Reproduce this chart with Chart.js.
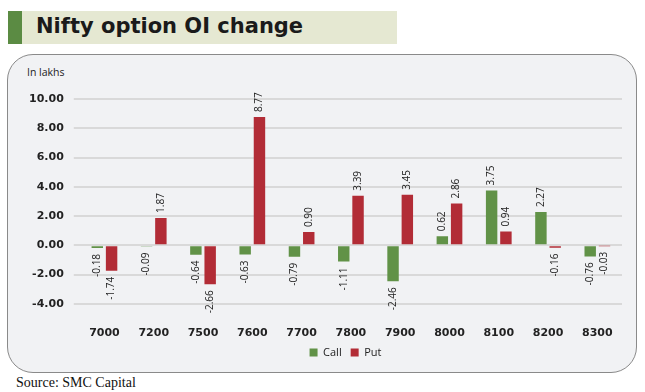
<!DOCTYPE html>
<html>
<head>
<meta charset="utf-8">
<script src="https://cdn.jsdelivr.net/npm/chart.js@4.4.1/dist/chart.umd.min.js"></script>
<style>
  body { margin: 0; background: #fff; width: 645px; height: 392px; position: relative; overflow: hidden; }
  #banner { position: absolute; left: 8px; top: 11px; width: 389px; height: 33px; background: #e5e8d2; }
  #banner .bar { position: absolute; left: 0; top: 0; width: 14px; height: 33px; background: #5b8b43; }
  #banner .txt { position: absolute; left: 28px; top: 3px; font: bold 21px "DejaVu Sans"; color: #1a1a1a; white-space: nowrap; }
  #box { position: absolute; left: 7px; top: 54px; width: 630px; height: 319px; background: #f1f2f4; border: 1.5px solid #8a8a8a; border-radius: 26px; box-sizing: border-box; }
  #unit { position: absolute; left: 27px; top: 65px; font: 10.5px "Open Sans"; color: #222; }
  #source { position: absolute; left: 16px; top: 375px; font: 14px "Liberation Serif"; color: #111; }
  #wrap { position: absolute; left: 0; top: 0; width: 645px; height: 392px; }
</style>
</head>
<body>
<div id="banner"><div class="bar"></div><div class="txt">Nifty option OI change</div></div>
<div id="box"></div>
<div id="unit">In lakhs</div>
<div id="source">Source: SMC Capital</div>
<div id="wrap"><canvas id="oiCanvas" width="645" height="392"></canvas></div>
<script>
const strikes = ["7000","7200","7500","7600","7700","7800","7900","8000","8100","8200","8300"]
const callChange = [-0.18, -0.09, -0.64, -0.63, -0.79, -1.11, -2.46, 0.62, 3.75, 2.27, -0.76]
const putChange = [-1.74, 1.87, -2.66, 8.77, 0.90, 3.39, 3.45, 2.86, 0.94, -0.16, -0.03]

// rotated value labels above / below each bar
const barLabels = {
    id: "barLabels",
    afterDatasetsDraw(chart) {
        const ctx = chart.ctx
        ctx.save()
        ctx.font = "10px 'Open Sans'"
        ctx.fillStyle = "#222"
        ctx.textBaseline = "middle"
        chart.data.datasets.forEach((ds, i) => {
            chart.getDatasetMeta(i).data.forEach((bar, j) => {
                const v = ds.data[j]
                const txt = v.toFixed(2)
                ctx.save()
                ctx.translate(bar.x, v >= 0 ? bar.y - 5 : bar.y + 6)
                ctx.rotate(-Math.PI / 2)
                ctx.textAlign = v >= 0 ? "left" : "right"
                ctx.fillText(txt, 0, 0)
                ctx.restore()
            })
        })
        ctx.restore()
    }
}

// pull the legend up closer to the axis labels, and a bit right like the original
const legendNudge = {
    id: "legendNudge",
    afterLayout(chart) {
        const lg = chart.legend
        if (lg) { lg.top -= 17; lg.bottom -= 17; lg.left += 25; lg.right += 25 }
    }
}

const oiChart = new Chart(document.getElementById("oiCanvas"), {
    type: "bar",
    data: {
        labels: strikes,
        datasets: [{
            label: "Call",
            data: callChange,
            backgroundColor: "#619247",
            categoryPercentage: 0.58,
            barPercentage: 0.8
        }, {
            label: "Put",
            data: putChange,
            backgroundColor: "#b22c36",
            categoryPercentage: 0.58,
            barPercentage: 0.8
        }]
    },
    options: {
        responsive: false,
        animation: false,
        layout: { padding: { top: 99, left: 19, right: 23, bottom: 11 } },
        plugins: {
            legend: {
                position: "bottom",
                maxHeight: 26,
                labels: {
                    boxWidth: 8, boxHeight: 8, padding: 9,
                    color: "#222",
                    font: { family: "Open Sans", size: 11 }
                }
            },
            tooltip: { enabled: false }
        },
        scales: {
            x: {
                grid: { display: false },
                border: { display: false },
                ticks: { padding: 15, color: "#222", font: { family: "DejaVu Sans", size: 11, weight: "bold" } }
            },
            y: {
                min: -4, max: 10,
                grid: { color: "#d9d9d9", lineWidth: 2, tickLength: 6 },
                border: { display: false },
                ticks: {
                    stepSize: 2, padding: 10, color: "#222",
                    font: { family: "DejaVu Sans", size: 11, weight: "bold" },
                    callback: v => v.toFixed(2)
                }
            }
        }
    },
    plugins: [barLabels, legendNudge]
})
</script>
</body>
</html>
